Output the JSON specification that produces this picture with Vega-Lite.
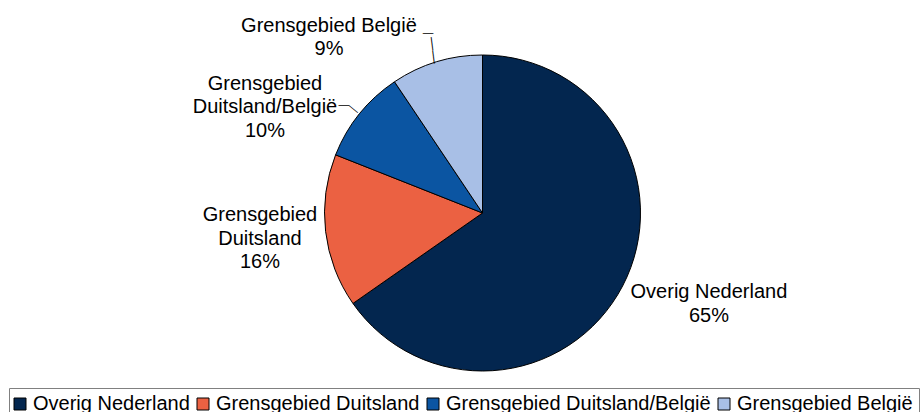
{
  "$schema": "https://vega.github.io/schema/vega-lite/v6.json",
  "width": 881,
  "height": 398,
  "autosize": {"type": "none"},
  "padding": {"left": 42, "top": 14, "right": 0, "bottom": 0},
  "background": "white",
  "config": {"view": {"stroke": null}, "font": "Liberation Sans"},
  "data": {
    "values": [
      {"category": "Overig Nederland", "share": 65.3, "label": "Overig Nederland\n65%"},
      {"category": "Grensgebied Duitsland", "share": 15.7, "label": "Grensgebied\nDuitsland\n16%"},
      {"category": "Grensgebied Duitsland/België", "share": 9.6, "label": "Grensgebied\nDuitsland/België\n10%"},
      {"category": "Grensgebied België", "share": 9.4, "label": "Grensgebied België\n9%"}
    ]
  },
  "encoding": {
    "theta": {"field": "share", "type": "quantitative", "stack": true},
    "order": {"field": "share", "type": "quantitative", "sort": "descending"},
    "detail": {"field": "category", "type": "nominal"}
  },
  "layer": [
    {
      "mark": {"type": "arc", "outerRadius": 158, "stroke": "black", "strokeWidth": 1},
      "encoding": {
        "color": {
          "field": "category",
          "type": "nominal",
          "scale": {
            "domain": ["Overig Nederland", "Grensgebied Duitsland", "Grensgebied Duitsland/België", "Grensgebied België"],
            "range": ["#03264f", "#eb6142", "#0b55a2", "#a8bfe6"]
          },
          "legend": {
            "title": null,
            "orient": "none",
            "legendX": -33,
            "legendY": 374,
            "direction": "horizontal",
            "symbolType": "square",
            "symbolSize": 144,
            "symbolStrokeColor": "black",
            "symbolStrokeWidth": 1,
            "symbolOpacity": 1,
            "symbolOffset": -5,
            "labelFontSize": 20,
            "labelFont": "Liberation Sans",
            "labelColor": "black",
            "labelLimit": 0,
            "labelOffset": 3,
            "columnPadding": 5,
            "padding": 6,
            "strokeColor": "#808080",
            "fillColor": "white"
          }
        }
      }
    },
    {
      "mark": {"type": "text", "radius": 230, "fontSize": 20, "lineBreak": "\n", "lineHeight": 23.4, "align": "center", "baseline": "middle", "color": "black", "dx": 22.5, "dy": -27},
      "encoding": {"text": {"condition": {"test": "datum.category === 'Overig Nederland'", "field": "label"}, "value": ""}}
    },
    {
      "mark": {"type": "text", "radius": 230, "fontSize": 20, "lineBreak": "\n", "lineHeight": 23.4, "align": "center", "baseline": "middle", "color": "black", "dx": 5.9, "dy": -24.4},
      "encoding": {"text": {"condition": {"test": "datum.category === 'Grensgebied Duitsland'", "field": "label"}, "value": ""}}
    },
    {
      "mark": {"type": "text", "radius": 230, "fontSize": 20, "lineBreak": "\n", "lineHeight": 23.4, "align": "center", "baseline": "middle", "color": "black", "dx": -38.5, "dy": 15.1},
      "encoding": {"text": {"condition": {"test": "datum.category === 'Grensgebied Duitsland/België'", "field": "label"}, "value": ""}}
    },
    {
      "mark": {"type": "text", "radius": 230, "fontSize": 20, "lineBreak": "\n", "lineHeight": 23.4, "align": "center", "baseline": "middle", "color": "black", "dx": -86.6, "dy": 32.9},
      "encoding": {"text": {"condition": {"test": "datum.category === 'Grensgebied België'", "field": "label"}, "value": ""}}
    },
    {
      "mark": {"type": "text", "radius": 165.5, "fontSize": 11, "angle": 38.9, "align": "center", "baseline": "middle", "color": "black"},
      "encoding": {"text": {"condition": {"test": "datum.category === 'Grensgebied Duitsland/België'", "value": "—"}, "value": ""}}
    },
    {
      "mark": {"type": "text", "radius": 171.7, "fontSize": 11, "align": "center", "baseline": "middle", "color": "black", "dx": -4.9, "dy": -0.3},
      "encoding": {"text": {"condition": {"test": "datum.category === 'Grensgebied Duitsland/België'", "value": "—"}, "value": ""}}
    },
    {
      "mark": {"type": "text", "radius": 173, "fontSize": 13.4, "angle": 82.7, "align": "center", "baseline": "middle", "color": "black", "dx": 2.8, "dy": -0.8},
      "encoding": {"text": {"condition": {"test": "datum.category === 'Grensgebied België'", "value": "——"}, "value": ""}}
    },
    {
      "mark": {"type": "text", "radius": 186, "fontSize": 10.6, "align": "center", "baseline": "middle", "color": "black", "dx": -0.4, "dy": -2},
      "encoding": {"text": {"condition": {"test": "datum.category === 'Grensgebied België'", "value": "—"}, "value": ""}}
    }
  ]
}
